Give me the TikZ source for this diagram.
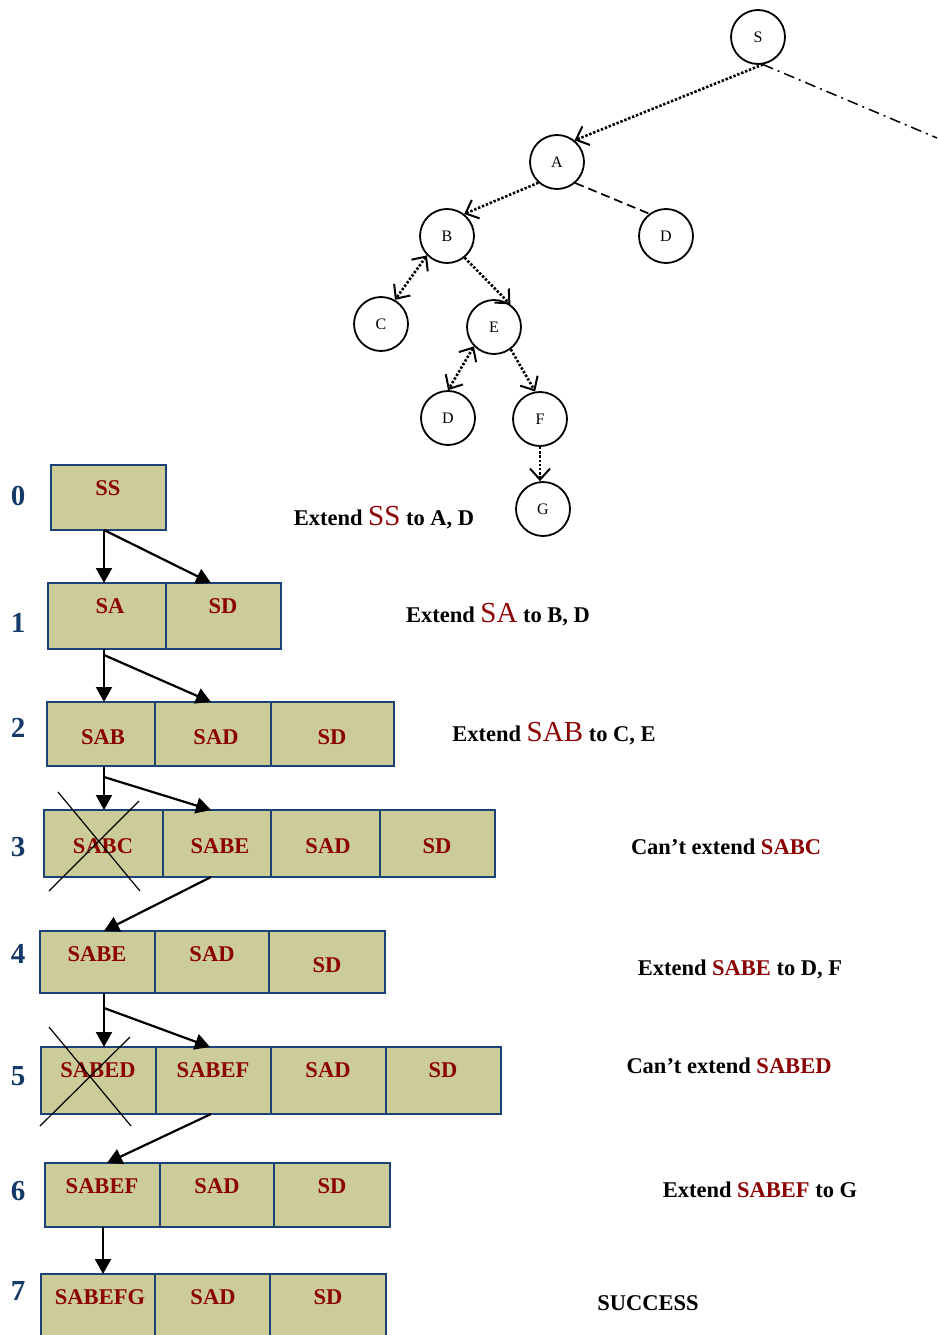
\documentclass[tikz,border=0pt]{standalone}
\usepackage{fontspec}
\setmainfont{Liberation Serif}
\usetikzlibrary{arrows.meta,calc}
\definecolor{cellfill}{RGB}{204,204,153}
\definecolor{cellline}{RGB}{26,66,118}
\definecolor{dred}{RGB}{139,0,0}
\definecolor{numblue}{RGB}{22,58,104}
\begin{document}
\begin{tikzpicture}[x=1pt,y=-1pt,
  >={Straight Barb[length=11pt,width=20pt,line width=2pt]},
  cell/.style={draw=cellline, fill=cellfill, line width=2pt, inner sep=0pt, outer sep=0pt},
  celltext/.style={text=dred, font=\fontsize{22.5}{26}\selectfont\bfseries, anchor=base, inner sep=0pt},
  num/.style={text=numblue, font=\fontsize{29}{32}\selectfont\bfseries, anchor=base, inner sep=0pt},
  note/.style={font=\fontsize{22.5}{26}\selectfont\bfseries, anchor=base, inner sep=0pt},
  tnode/.style={circle, draw, line width=1.8pt, minimum size=54pt, inner sep=0pt, font=\fontsize{16}{18}\selectfont},
  tedge/.style={line width=2.6pt, dash pattern=on 2.4pt off 1.8pt},
  barrow/.style={line width=2.2pt, -{Triangle[length=15pt,width=16pt]}},
  cross/.style={line width=1.2pt}]
\useasboundingbox (0,0) rectangle (937,1335);
\clip (0,0) rectangle (937,1335);
\newcommand{\bigred}[1]{\textcolor{dred}{\mdseries\fontsize{29}{32}\selectfont #1}}

% ---------------- tree ----------------
\node[tnode] (S)  at (758,37)  {S};
\node[tnode] (A)  at (557,162) {A};
\node[tnode] (B)  at (447,236) {B};
\node[tnode] (D1) at (666,236) {D};
\node[tnode] (C)  at (381,324) {C};
\node[tnode] (E)  at (494,327) {E};
\node[tnode] (D2) at (448,418) {D};
\node[tnode] (F)  at (540,419) {F};
\node[tnode] (G)  at (543,509) {G};
\coordinate (Soff) at (937,138);

\draw[tedge,->] (S.-80) -- (A.51);
\draw[line width=1.5pt, dash pattern=on 11pt off 5pt on 2pt off 5pt] (S.-80) -- (Soff);
\draw[tedge,->] (A.228) -- (B.52);
\draw[line width=1.7pt, dash pattern=on 9pt off 5pt] (A.-49) -- (D1.127);
\draw[tedge,<->] (B.224) -- (C.60);
\draw[tedge,->] (B.-51) -- (E.54);
\draw[tedge,<->] (E.224) -- (D2.north);
\draw[tedge,->] (E.-53) -- (F.100);
\draw[tedge,->] (F.south) -- (F.south |- G.north);

% ---------------- row labels ----------------
\node[num] (n0) at (18,505)  {0};
\node[num] (n1) at (18,632)  {1};
\node[num] (n2) at (18,737)  {2};
\node[num] (n3) at (18,856)  {3};
\node[num] (n4) at (18,963)  {4};
\node[num] (n5) at (18,1085) {5};
\node[num] (n6) at (18,1200) {6};
\node[num] (n7) at (18,1300) {7};

% ---------------- cells ----------------
\node[cell, minimum width=115pt, minimum height=65pt] (r0a) at (108.5,497.5) {};
\node[cell, minimum width=118pt, minimum height=66pt] (r1a) at (107,616) {};
\node[cell, minimum width=115pt, minimum height=66pt] (r1b) at (223.5,616) {};
\node[cell, minimum width=108pt, minimum height=64pt] (r2a) at (101,734) {};
\node[cell, minimum width=116pt, minimum height=64pt] (r2b) at (213,734) {};
\node[cell, minimum width=123pt, minimum height=64pt] (r2c) at (332.5,734) {};
\node[cell, minimum width=119pt, minimum height=67pt] (r3a) at (103.5,843.5) {};
\node[cell, minimum width=108pt, minimum height=67pt] (r3b) at (217,843.5) {};
\node[cell, minimum width=109pt, minimum height=67pt] (r3c) at (325.5,843.5) {};
\node[cell, minimum width=115pt, minimum height=67pt] (r3d) at (437.5,843.5) {};
\node[cell, minimum width=115pt, minimum height=62pt] (r4a) at (97.5,962) {};
\node[cell, minimum width=114pt, minimum height=62pt] (r4b) at (212,962) {};
\node[cell, minimum width=116pt, minimum height=62pt] (r4c) at (327,962) {};
\node[cell, minimum width=115pt, minimum height=67pt] (r5a) at (98.5,1080.5) {};
\node[cell, minimum width=115pt, minimum height=67pt] (r5b) at (213.5,1080.5) {};
\node[cell, minimum width=115pt, minimum height=67pt] (r5c) at (328.5,1080.5) {};
\node[cell, minimum width=115pt, minimum height=67pt] (r5d) at (443.5,1080.5) {};
\node[cell, minimum width=115pt, minimum height=64pt] (r6a) at (102.5,1195) {};
\node[cell, minimum width=114pt, minimum height=64pt] (r6b) at (217,1195) {};
\node[cell, minimum width=116pt, minimum height=64pt] (r6c) at (332,1195) {};
\node[cell, minimum width=114pt, minimum height=66pt] (r7a) at (98,1307) {};
\node[cell, minimum width=115pt, minimum height=66pt] (r7b) at (212.5,1307) {};
\node[cell, minimum width=116pt, minimum height=66pt] (r7c) at (328,1307) {};

% ---------------- cell texts ----------------
\node[celltext] (t0a) at (108,495) {SS};
\node[celltext] (t1a) at (110,613) {SA};
\node[celltext] (t1b) at (223,613) {SD};
\node[celltext] (t2a) at (103,744) {SAB};
\node[celltext] (t2b) at (216,744) {SAD};
\node[celltext] (t2c) at (332,744) {SD};
\node[celltext] (t3a) at (103,853) {SABC};
\node[celltext] (t3b) at (220,853) {SABE};
\node[celltext] (t3c) at (328,853) {SAD};
\node[celltext] (t3d) at (437,853) {SD};
\node[celltext] (t4a) at (97,961)  {SABE};
\node[celltext] (t4b) at (212,961) {SAD};
\node[celltext] (t4c) at (327,972) {SD};
\node[celltext] (t5a) at (98,1077)  {SABED};
\node[celltext] (t5b) at (213,1077) {SABEF};
\node[celltext] (t5c) at (328,1077) {SAD};
\node[celltext] (t5d) at (443,1077) {SD};
\node[celltext] (t6a) at (102,1193) {SABEF};
\node[celltext] (t6b) at (217,1193) {SAD};
\node[celltext] (t6c) at (332,1193) {SD};
\node[celltext] (t7a) at (100,1304) {SABEFG};
\node[celltext] (t7b) at (213,1304) {SAD};
\node[celltext] (t7c) at (328,1304) {SD};

% ---------------- crosses ----------------
\draw[cross] (58,792) -- (140,891);
\draw[cross] (139,801) -- (49,891);
\draw[cross] (49,1027) -- (131,1126);
\draw[cross] (130,1037) -- (40,1126);

% ---------------- box arrows ----------------
\draw[barrow] ([xshift=-4.5pt]r0a.south) -- ([xshift=-3pt]r1a.north);
\draw[barrow] ([xshift=-4.5pt]r0a.south) -- ([xshift=-12.5pt]r1b.north);
\draw[barrow] ([xshift=-3pt]r1a.south) -- ([xshift=3pt]r2a.north);
\draw[barrow] ([xshift=-3pt,yshift=-6pt]r1a.south) -- ([xshift=-2pt]r2b.north);
\draw[barrow] ([xshift=3pt]r2a.south) -- ([xshift=0.5pt]r3a.north);
\draw[barrow] ([xshift=3pt,yshift=-11pt]r2a.south) -- ([xshift=-6pt]r3b.north);
\draw[barrow] ([xshift=-6pt]r3b.south) -- ([xshift=6.5pt]r4a.north);
\draw[barrow] ([xshift=6.5pt]r4a.south) -- ([xshift=5.5pt]r5a.north);
\draw[barrow] ([xshift=6.5pt,yshift=-15pt]r4a.south) -- ([xshift=-3.5pt]r5b.north);
\draw[barrow] ([xshift=-2.5pt]r5b.south) -- ([xshift=4.5pt]r6a.north);
\draw[barrow] ([xshift=0.5pt]r6a.south) -- ([xshift=5pt]r7a.north);

% ---------------- notes ----------------
\node[note] (x0) at (384,525) {Extend \bigred{SS} to A, D};
\node[note] (x1) at (498,622) {Extend \bigred{SA} to B, D};
\node[note] (x2) at (554,741) {Extend \bigred{SAB} to C, E};
\node[note] (x3) at (726,854) {Can’t extend \textcolor{dred}{SABC}};
\node[note] (x4) at (740,975) {Extend \textcolor{dred}{SABE} to D, F};
\node[note] (x5) at (729,1073) {Can’t extend \textcolor{dred}{SABED}};
\node[note] (x6) at (760,1197) {Extend \textcolor{dred}{SABEF} to G};
\node[note] (x7) at (648,1310) {SUCCESS};
\end{tikzpicture}
\end{document}
